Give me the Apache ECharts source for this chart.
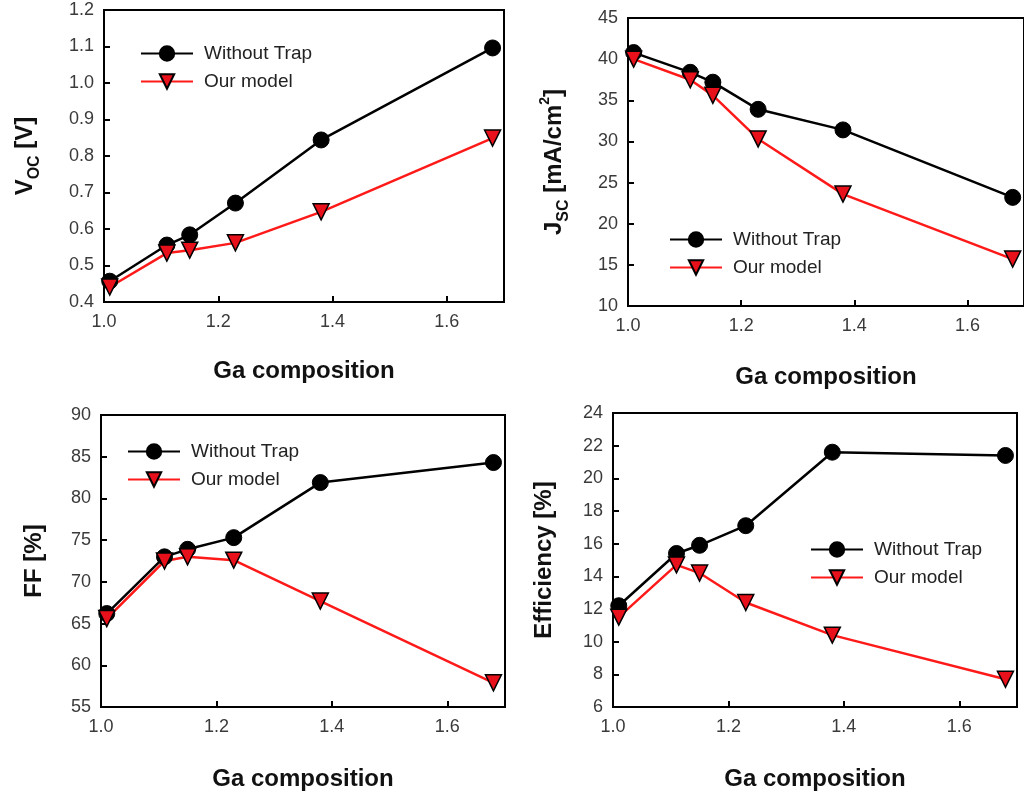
<!DOCTYPE html>
<html>
<head>
<meta charset="utf-8">
<script src="https://cdn.jsdelivr.net/npm/echarts@6/dist/echarts.min.js"></script>
<style>html,body{margin:0;padding:0;background:#fff}#main{width:1024px;height:796px}</style>
</head>
<body>
<div id="main"></div>
<script>
// Ga composition (x) shared by all four panels
var gaComp = [1.01, 1.11, 1.15, 1.23, 1.38, 1.68];
var seriesNames = ['Without Trap', 'Our model'];

var vocTrap  = [0.457, 0.556, 0.584, 0.671, 0.844, 1.096];
var vocModel = [0.441, 0.534, 0.542, 0.562, 0.647, 0.849];
var jscTrap  = [40.8, 38.4, 37.2, 33.9, 31.4, 23.2];
var jscModel = [40.0, 37.5, 35.6, 30.3, 23.6, 15.7];
var ffTrap   = [66.2, 73.0, 73.9, 75.3, 81.9, 84.3];
var ffModel  = [65.6, 72.5, 73.0, 72.6, 67.7, 57.9];
var effTrap  = [12.2, 15.4, 15.9, 17.1, 21.6, 21.4];
var effModel = [11.5, 14.7, 14.2, 12.4, 10.4, 7.7];

var yNames = ['{a|V}{s|OC}{a| [V]}', '{a|J}{s|SC}{a| [mA/cm}{p|2}{a|]}', '{a|FF [%]}', '{a|Efficiency [%]}'];
var yRanges = [[0.4, 1.2, 0.1, 1], [10, 45, 5, 0], [55, 90, 5, 0], [6, 24, 2, 0]];

function pairs(ys) {
  return gaComp.map(function (x, i) { return [x, ys[i]]; });
}

var grids = [
  {left: 104, top: 10, width: 400, height: 292},
  {left: 628, top: 18, width: 573, height: 288},
  {left: 101, top: 415, width: 404, height: 292},
  {left: 613, top: 413, width: 404, height: 294}
];
var yGaps = [67, 62, 55, 57];
var xGaps = [57, 59, 60, 60];
var legendPos = [[135, 39], [664, 225], [122, 437], [805, 535]];

var dom = document.getElementById('main');
var myChart = echarts.init(dom);
var option = {
  backgroundColor: '#fff',
  animation: false,
  grid: [], xAxis: [], yAxis: [], legend: [], series: []
};

for (var k = 0; k < 4; k++) {
  var g = grids[k];
  option.grid.push({left: g.left, top: g.top, width: g.width, height: g.height,
    show: true, borderColor: '#000', borderWidth: 2, backgroundColor: 'transparent'});
  option.xAxis.push({
    type: 'value', gridIndex: k, min: 1.0, max: 1.7, interval: 0.2,
    name: 'Ga composition', nameLocation: 'middle', nameGap: xGaps[k],
    nameTextStyle: {fontSize: 24, fontWeight: 'bold', color: '#111', fontFamily: 'Liberation Sans'},
    axisLine: {lineStyle: {color: '#000', width: 2}},
    axisTick: {inside: true, length: 6, lineStyle: {color: '#000', width: 2}},
    axisLabel: {showMaxLabel: false, margin: 11, fontSize: 18, color: '#3a3a3a', fontFamily: 'Liberation Sans',
      formatter: function (v) { return v.toFixed(1); }},
    splitLine: {show: false}
  });
  var r = yRanges[k];
  option.yAxis.push({
    type: 'value', gridIndex: k, min: r[0], max: r[1], interval: r[2],
    name: yNames[k], nameLocation: 'middle', nameGap: yGaps[k], nameRotate: 90,
    nameTextStyle: {rich: {
      a: {fontSize: 24, fontWeight: 'bold', color: '#111', fontFamily: 'Liberation Sans'},
      s: {fontSize: 16, fontWeight: 'bold', color: '#111', fontFamily: 'Liberation Sans', verticalAlign: 'bottom', padding: [0, 0, -6, 0]},
      p: {fontSize: 14, fontWeight: 'bold', color: '#111', fontFamily: 'Liberation Sans', verticalAlign: 'top', padding: [-4, 0, 0, 0]}
    }},
    axisLine: {lineStyle: {color: '#000', width: 2}},
    axisTick: {inside: true, length: 6, lineStyle: {color: '#000', width: 2}},
    axisLabel: {margin: 10, fontSize: 18, color: '#3a3a3a', fontFamily: 'Liberation Sans',
      formatter: (function (d) { return function (v) { return v.toFixed(d); }; })(r[3])},
    splitLine: {show: false}
  });
  option.legend.push({
    orient: 'vertical', left: legendPos[k][0], top: legendPos[k][1],
    data: seriesNames, itemWidth: 52, itemHeight: 18, itemGap: 9,
    textStyle: {fontSize: 19, color: '#222', fontFamily: 'Liberation Sans', padding: [0, 0, 0, 6]}
  });
}

var trapSets = [vocTrap, jscTrap, ffTrap, effTrap];
var modelSets = [vocModel, jscModel, ffModel, effModel];
for (var j = 0; j < 4; j++) {
  option.series.push({
    name: seriesNames[0], type: 'line', xAxisIndex: j, yAxisIndex: j,
    data: pairs(trapSets[j]), symbol: 'circle', symbolSize: 16,
    lineStyle: {color: '#000', width: 2.5},
    itemStyle: {color: '#000', borderColor: '#000', borderWidth: 1}
  });
  option.series.push({
    name: seriesNames[1], type: 'line', xAxisIndex: j, yAxisIndex: j,
    data: pairs(modelSets[j]), symbol: 'triangle', symbolRotate: 180, symbolSize: 16,
    lineStyle: {color: '#ff1a1a', width: 2.5},
    itemStyle: {color: '#e8101a', borderColor: '#000', borderWidth: 1.5}
  });
}

myChart.setOption(option);
</script>
</body>
</html>
